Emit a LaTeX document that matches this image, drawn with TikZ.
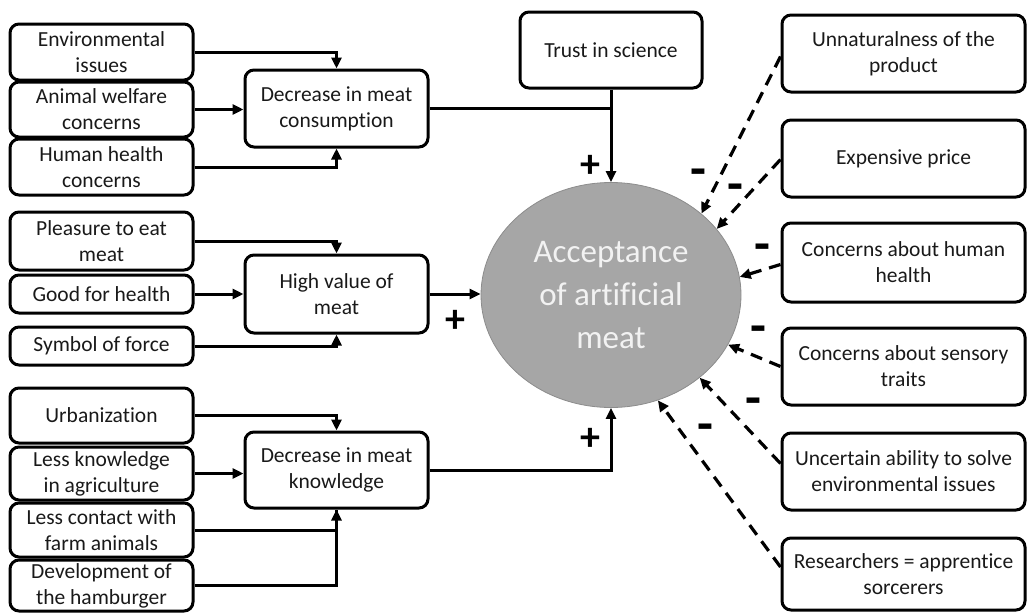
\documentclass[tikz,border=0pt]{standalone}
\usepackage{fontspec}
\setmainfont{Carlito}[Ligatures=NoCommon]
\usetikzlibrary{arrows.meta,shapes.geometric,calc}
\tikzset{
  box/.style={draw, line width=3pt, rounded corners=9pt, align=center, inner sep=0pt,
    font=\fontsize{21.5}{26}\selectfont, text=black!90},
  lbox/.style={box, minimum width=183pt},
  rbox/.style={box, minimum width=243pt, minimum height=77pt},
  link/.style={line width=3pt, -{Triangle[length=11pt,width=10pt]}},
  plain/.style={line width=3pt},
  neg/.style={line width=3.2pt, dash pattern=on 12pt off 8pt, -{Triangle[length=11pt,width=10pt]}},
  sign/.style={font=\fontsize{40}{40}\bfseries\selectfont, inner sep=0pt},
  minus/.style={font=\fontsize{52}{52}\bfseries\selectfont, inner sep=0pt},
}
\begin{document}
\begin{tikzpicture}[x=1pt,y=-1pt]
\useasboundingbox (0,0) rectangle (1028,613);

% central outcome
\node[ellipse, fill=black!35, draw=black!45, line width=0.8pt, minimum width=260pt, minimum height=225pt,
  inner sep=0pt, align=center, text=white!95!black, font=\fontsize{33}{43}\selectfont]
  (acc) at (611,295) {Acceptance\\of artificial\\meat};

% left column: drivers
\node[lbox, minimum height=56pt] (env) at (101.5,52) {Environmental\\issues};
\node[lbox, minimum height=55pt] (ani) at (101.5,109.5) {Animal welfare\\concerns};
\node[lbox, minimum height=56pt] (hum) at (101.5,167) {Human health\\concerns};
\node[lbox, minimum height=58pt] (ple) at (101.5,241) {Pleasure to eat\\meat};
\node[lbox, minimum height=38pt] (goo) at (101.5,294) {Good for health};
\node[lbox, minimum height=38pt] (sym) at (101.5,346) {Symbol of force};
\node[lbox, minimum height=55pt] (urb) at (101.5,415.5) {Urbanization};
\node[lbox, minimum height=53pt] (agr) at (101.5,473.5) {Less knowledge\\in agriculture};
\node[lbox, minimum height=54pt] (far) at (101.5,530) {Less contact with\\farm animals};
\node[lbox, minimum height=51pt] (ham) at (101.5,585.5) {Development of\\the hamburger};

% middle column: intermediate factors
\node[lbox, minimum height=77pt] (dmc) at (336.5,108.5) {Decrease in meat\\consumption};
\node[lbox, minimum height=78pt] (hvm) at (336.5,294) {High value of\\meat};
\node[lbox, minimum height=76pt] (dmk) at (336.5,470) {Decrease in meat\\knowledge};
\node[box, minimum width=182pt, minimum height=76pt] (tru) at (611,50) {Trust in science};

% right column: barriers
\node[rbox] (unn) at (903.5,53.5) {Unnaturalness of the\\product};
\node[rbox] (exp) at (903.5,158.5) {Expensive price};
\node[rbox, minimum height=79pt] (hhc) at (903.5,262.5) {Concerns about human\\health};
\node[rbox] (sen) at (903.5,366.5) {Concerns about sensory\\traits};
\node[rbox] (unc) at (903.5,471.5) {Uncertain ability to solve\\environmental issues};
\node[rbox, minimum height=72pt] (res) at (903.5,574) {Researchers = apprentice\\sorcerers};

% inputs to the intermediate factors
\draw[link] (env.east) -| (dmc.north);
\draw[link] (ani.east) -- (dmc.west |- ani.east);
\draw[link] (hum.east) -| (dmc.south);
\draw[link] (ple.east) -| (hvm.north);
\draw[link] (goo.east) -- (hvm.west |- goo.east);
\draw[link] (sym.east) -| (hvm.south);
\draw[link] (urb.east) -| (dmk.north);
\draw[link] (agr.east) -- (dmk.west |- agr.east);
\draw[plain] (far.east) -| (dmk.south);
\draw[link] (ham.east) -| (dmk.south);

% positive effects on acceptance
\draw[plain] (dmc.east) -- (dmc.east -| tru.south);
\draw[link] (tru.south) -- (acc.north);
\draw[link] (hvm.east) -- (acc.west |- hvm.east);
\draw[link] (dmk.east) -| (acc.south);
\node[sign] (p1) at (590,166) {+};
\node[sign] (p2) at (455,321) {+};
\node[sign] (p3) at (590,439) {+};

% negative effects on acceptance
\draw[neg] ($(unn.west)+(0,3)$) -- (acc.42);
\draw[neg] ($(exp.west)+(0,1)$) -- (acc.32);
\draw[neg] ($(hhc.west)+(0,2)$) -- (acc.8);
\draw[neg] (sen.west) -- (acc.-23);
\draw[neg] ($(unc.west)+(0,-8)$) -- (acc.-43);
\draw[neg] ($(res.west)+(0,-7)$) -- (acc.-66);
\node[minus] (m1) at (698,178) {-};
\node[minus] (m2) at (735,193) {-};
\node[minus] (m3) at (762,253) {-};
\node[minus] (m4) at (758,335) {-};
\node[minus] (m5) at (753,407) {-};
\node[minus] (m6) at (705,433) {-};
\end{tikzpicture}
\end{document}
